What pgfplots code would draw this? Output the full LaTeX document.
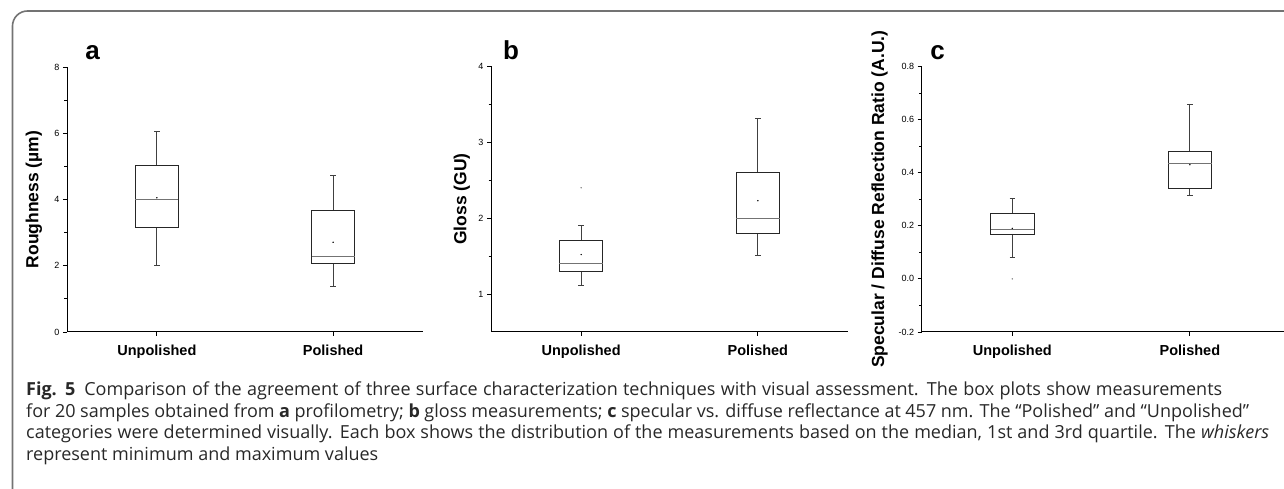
\documentclass[border=0pt]{standalone}
\usepackage{pgfplots}
\pgfplotsset{compat=1.18}
\usepgfplotslibrary{statistics}
\usepackage{fontspec}
\setmainfont{Liberation Sans}
\newfontfamily\capfont{Open Sans}
\definecolor{framegray}{RGB}{115,115,115}
\definecolor{capgray}{RGB}{40,40,40}

\pgfplotsset{
  panel/.style={
    scale only axis, anchor=south west,
    axis lines*=left, enlargelimits=false,
    tick align=outside,
    major tick length=4pt, minor tick length=2.5pt,
    axis line style={black, line width=1pt},
    tick style={black, line width=0.8pt},
    xtick={0,1}, xticklabels={Unpolished,Polished},
    xticklabel style={font=\bfseries\fontsize{14.5}{16}\selectfont, yshift=-5pt},
    yticklabel style={font=\fontsize{9}{10}\selectfont},
    /pgf/number format/assume math mode=true,
    ylabel style={font=\bfseries\fontsize{17.5}{20}\selectfont, anchor=center},
    boxplot/draw direction=y,
    boxplot/box extend=0.245,
    boxplot/whisker extend=0.03,
    boxplot/every box/.style={draw=black!85, line width=0.9pt},
    boxplot/every whisker/.style={draw=black!75, line width=0.9pt},
    boxplot/every median/.style={draw=black!55, line width=0.9pt},
    boxplot/every average/.style={/tikz/mark=*, /tikz/mark size=0.45pt, /tikz/mark options={fill=gray, draw=gray}},
  },
  bx/.style={black, mark=*, mark size=0.45pt, mark options={fill=gray, draw=gray}},
}

\begin{document}
\begin{tikzpicture}[x=1pt,y=1pt]
\useasboundingbox (0,0) rectangle (1284,489);
\draw[line width=1.6pt, framegray, rounded corners=15pt] (1400,478) -- (12.5,478) -- (12.5,-60);

% Panel a
\begin{axis}[panel, at={(67pt,157pt)}, width=356pt, height=265pt,
  xmin=-0.51, xmax=1.51, ymin=0, ymax=8,
  ytick={0,2,4,6,8}, minor ytick={1,3,5,7},
  ylabel={Roughness (µm)}, ylabel style={at={(axis description cs:-0.0927,0.5)}}]
\addplot[bx, boxplot prepared={draw position=0, lower whisker=2.0, lower quartile=3.16,
  median=4.0, upper quartile=5.03, upper whisker=6.05, average=4.05}] coordinates {};
\addplot[bx, boxplot prepared={draw position=1, lower whisker=1.39, lower quartile=2.07,
  median=2.28, upper quartile=3.66, upper whisker=4.74, average=2.71}] coordinates {};
\end{axis}

% Panel b
\begin{axis}[panel, at={(491pt,157pt)}, width=357pt, height=265.6pt,
  xmin=-0.51, xmax=1.51, ymin=0.5, ymax=4,
  ytick={1,2,3,4}, minor ytick={1.5,2.5,3.5},
  ylabel={Gloss (GU)}, ylabel style={at={(axis description cs:-0.082,0.5)}}]
\addplot[bx, boxplot prepared={draw position=0, lower whisker=1.11, lower quartile=1.30,
  median=1.40, upper quartile=1.70, upper whisker=1.90, average=1.52}]
  table[row sep=\\, y index=0] {2.40\\};
\addplot[bx, boxplot prepared={draw position=1, lower whisker=1.51, lower quartile=1.80,
  median=2.00, upper quartile=2.60, upper whisker=3.31, average=2.23}] coordinates {};
\end{axis}

% Panel c
\begin{axis}[panel, at={(921.7pt,157pt)}, width=362.3pt, height=265.6pt,
  xmin=-0.51, xmax=1.53, ymin=-0.2, ymax=0.8,
  ytick={-0.2,0,0.2,0.4,0.6,0.8}, yticklabels={-0.2,0.0,0.2,0.4,0.6,0.8},
  minor ytick={-0.1,0.1,0.3,0.5,0.7},
  ylabel={Specular / Diffuse Reflection Ratio (A.U.)}, ylabel style={at={(axis description cs:-0.1165,0.5)}}]
\addplot[bx, boxplot prepared={draw position=0, lower whisker=0.079, lower quartile=0.169,
  median=0.185, upper quartile=0.247, upper whisker=0.303, average=0.19}]
  table[row sep=\\, y index=0] {0.0\\};
\addplot[bx, boxplot prepared={draw position=1, lower whisker=0.313, lower quartile=0.342,
  median=0.435, upper quartile=0.48, upper whisker=0.657, average=0.43}] coordinates {};
\end{axis}

% panel letters
\node[font=\bfseries\fontsize{26}{28}\selectfont, anchor=base] at (92.5,429) {a};
\node[font=\bfseries\fontsize{26}{28}\selectfont, anchor=base] at (511,429) {b};
\node[font=\bfseries\fontsize{26}{28}\selectfont, anchor=base] at (937.5,429) {c};

% caption
\begin{scope}[every node/.style={anchor=base west, inner sep=0pt, text=capgray, font=\capfont\fontsize{18}{21.5}\selectfont}]
\node at (26,93) {\makebox[1196pt][s]{\textbf{Fig. 5}\hspace{0.5em}Comparison of the agreement of three surface characterization techniques with visual assessment. The box plots show measurements}};
\node at (26,71.5) {\makebox[1223pt][s]{for 20 samples obtained from \textbf{a} profilometry; \textbf{b} gloss measurements; \textbf{c} specular vs. diffuse reflectance at 457 nm. The “Polished” and “Unpolished”}};
\node at (26,50) {\makebox[1243pt][s]{categories were determined visually. Each box shows the distribution of the measurements based on the median, 1st and 3rd quartile. The \textit{whiskers}}};
\node at (26,28.5) {represent minimum and maximum values};
\end{scope}
\end{tikzpicture}
\end{document}
